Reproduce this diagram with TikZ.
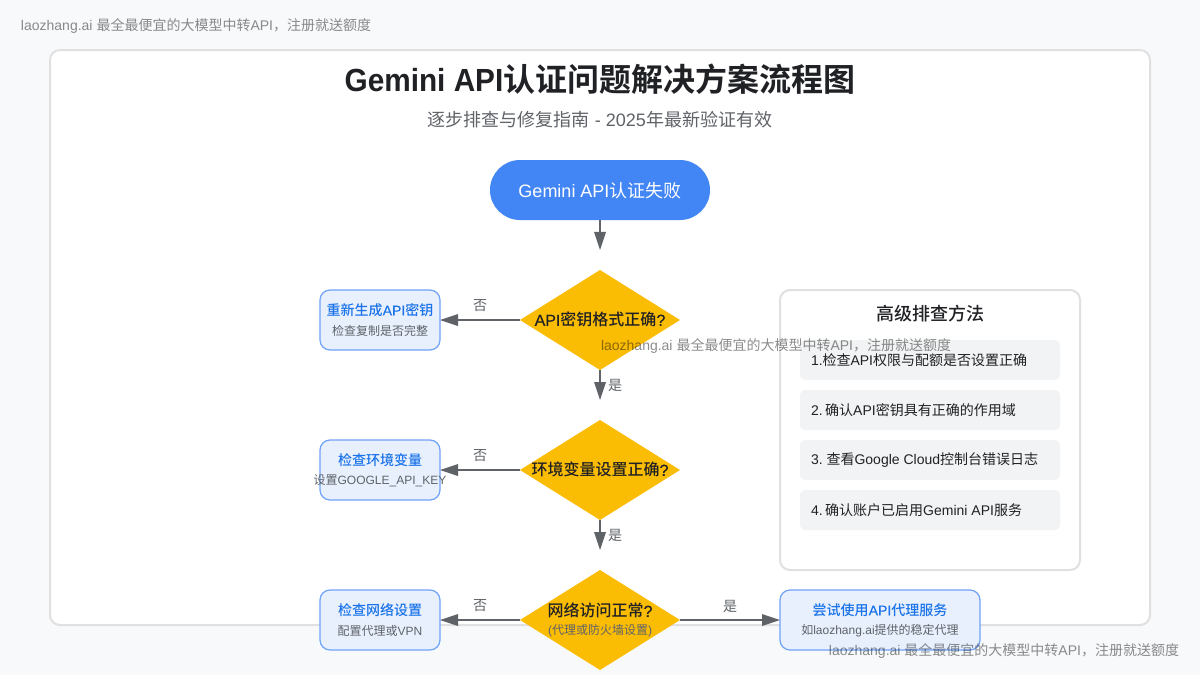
\documentclass[tikz,border=0pt]{standalone}
\usepackage{fontspec}
\setmainfont{Liberation Sans}
\newfontfamily\latinmid{Liberation Sans}[FakeBold=0.2]
\newfontfamily\latintitle{Liberation Sans}[UprightFont=* Bold,FakeStretch=0.93]
\newfontfamily\cjk{Noto Sans CJK SC}
\newfontfamily\cjkmid{Noto Sans CJK SC Medium}
\newfontfamily\cjkbold{Noto Sans CJK SC Bold}
\newcommand{\zh}[1]{{\cjk #1}}
\newcommand{\zhm}[1]{{\cjkmid #1}}
\newcommand{\zhb}[1]{{\cjkbold #1}}
\usetikzlibrary{arrows.meta,shapes.geometric}
\definecolor{page_bg}{HTML}{F8F9FA}
\definecolor{card_line}{HTML}{E0E0E0}
\definecolor{start_blue}{HTML}{4285F4}
\definecolor{check_yellow}{HTML}{FBBC04}
\definecolor{fix_fill}{HTML}{E8F0FE}
\definecolor{fix_line}{HTML}{6FA3F7}
\definecolor{fix_text}{HTML}{1A73E8}
\definecolor{step_fill}{HTML}{F1F3F4}
\definecolor{ink}{HTML}{202124}
\definecolor{edge_gray}{HTML}{5F6368}

\begin{document}
\begin{tikzpicture}[x=0.75pt,y=-0.75pt,->,>={Triangle[length=13.5pt,width=9pt,line width=0pt]},line width=1.5pt]
    \tikzstyle{card}=[draw=card_line, fill=white, rounded corners=7.5pt, inner sep=0pt, outer sep=0pt, line width=1.5pt]
    \tikzstyle{terminal}=[fill=start_blue, rounded corners=22.5pt, minimum width=165pt, minimum height=45pt, inner sep=0pt, outer sep=0pt]
    \tikzstyle{check}=[diamond, aspect=1.6, fill=check_yellow, minimum width=120pt, minimum height=75pt, inner sep=0pt, outer sep=0pt]
    \tikzstyle{checktext}=[text=ink, inner sep=0pt, yshift=-0.5pt, font=\latinmid\fontsize{12pt}{14pt}\selectfont]
    \tikzstyle{fixbox}=[draw=fix_line, fill=fix_fill, rounded corners=7.5pt, minimum width=90pt, minimum height=45pt, inner sep=0pt, outer sep=0pt, line width=0.9pt]
    \tikzstyle{fixtitle}=[text=fix_text, inner sep=0pt, font=\latinmid\fontsize{10.5pt}{13pt}\selectfont]
    \tikzstyle{subtext}=[text=edge_gray, inner sep=0pt, yshift=-0.75pt, font=\fontsize{9pt}{11pt}\selectfont]
    \tikzstyle{edgelabel}=[text=edge_gray, inner sep=0pt, yshift=-0.75pt, font=\fontsize{10.5pt}{13pt}\selectfont]
    \tikzstyle{stepbox}=[fill=step_fill, rounded corners=3.75pt, minimum width=195pt, minimum height=30pt, inner sep=0pt, outer sep=0pt]
    \tikzstyle{steptext}=[anchor=west, text=ink, inner sep=0pt, yshift=-0.4pt, font=\fontsize{10.5pt}{13pt}\selectfont]
    \tikzstyle{mark_text}=[text=black, text opacity=0.45, inner sep=0pt, yshift=-0.75pt, font=\fontsize{10.5pt}{13pt}\selectfont]

    \fill[page_bg,-] (0,0) rectangle (1200,675);
    \useasboundingbox (0,0) rectangle (1200,675);

    % card and headings
    \node[card, minimum width=825pt, minimum height=431.25pt] (main) at (600,337.5) {};
    \node[text=ink, inner sep=0pt, font=\latintitle\fontsize{24pt}{28pt}\selectfont] (title) at (600,79) {Gemini API\zhb{认证问题解决方案流程图}};
    \node[text=edge_gray, inner sep=0pt, font=\fontsize{13.5pt}{16pt}\selectfont] (subtitle) at (600,120) {\zh{逐步排查与修复指南} - 2025\zh{年最新验证有效}};

    % flow
    \node[terminal] (start) at (600,190) {};
    \node[text=white, inner sep=0pt, font=\fontsize{13.5pt}{16pt}\selectfont] (startt) at (600,191) {Gemini API\zh{认证失败}};
    \node[check] (c1) at (600,320) {};
    \node[check] (c2) at (600,470) {};
    \node[check] (c3) at (600,620) {};
    \node[checktext] (c1t) at (600,319) {API\zhm{密钥格式正确}?};
    \node[checktext] (c2t) at (600,469) {\zhm{环境变量设置正确}?};
    \node[checktext] (c3t) at (600,610) {\zhm{网络访问正常}?};
    \node[subtext] (c3s) at (600,630) {(\zh{代理或防火墙设置})};

    \node[fixbox] (f1) at (380,320) {};
    \node[fixbox] (f2) at (380,470) {};
    \node[fixbox] (f3) at (380,620) {};
    \node[fixbox, minimum width=150pt] (f4) at (880,620) {};
    \node[fixtitle] (f1t) at (380,310) {\zhm{重新生成}API\zhm{密钥}};
    \node[subtext] (f1s) at (380,330) {\zh{检查复制是否完整}};
    \node[fixtitle] (f2t) at (380,460) {\zhm{检查环境变量}};
    \node[subtext] (f2s) at (380,480) {\zh{设置}GOOGLE\_API\_KEY};
    \node[fixtitle] (f3t) at (380,610) {\zhm{检查网络设置}};
    \node[subtext] (f3s) at (380,630) {\zh{配置代理或}VPN};
    \node[fixtitle] (f4t) at (880,610) {\zhm{尝试使用}API\zhm{代理服务}};
    \node[subtext] (f4s) at (880,630) {\zh{如}laozhang.ai\zh{提供的稳定代理}};

    \path[color=edge_gray]
     (start) edge[shorten >=15pt] (c1)
     (c1) edge[shorten >=15pt] (c2)
     (c2) edge[shorten >=15pt] (c3)
     (c1) edge[] (f1)
     (c2) edge[] (f2)
     (c3) edge[] (f3)
     (c3) edge[] (f4)
     ;
    \node[edgelabel] (no1) at (480,305) {\zh{否}};
    \node[edgelabel] (no2) at (480,455) {\zh{否}};
    \node[edgelabel] (no3) at (480,605) {\zh{否}};
    \node[edgelabel] (yes1) at (615,384) {\zh{是}};
    \node[edgelabel] (yes2) at (615,534) {\zh{是}};
    \node[edgelabel] (yes3) at (730,605) {\zh{是}};

    % side panel
    \node[card, minimum width=225pt, minimum height=210pt] (panel) at (930,430) {};
    \node[text=ink, inner sep=0pt, font=\fontsize{13.5pt}{16pt}\selectfont] (paneltitle) at (930,314) {\zhm{高级排查方法}};
    \node[stepbox] (s1) at (930,360) {};
    \node[stepbox] (s2) at (930,410) {};
    \node[stepbox] (s3) at (930,460) {};
    \node[stepbox] (s4) at (930,510) {};
    \node[steptext] (s1t) at (810,360) {1.\kern-3pt\ \zh{检查}API\zh{权限与配额是否设置正确}};
    \node[steptext] (s2t) at (810,410) {2.\kern-1pt\ \zh{确认}API\zh{密钥具有正确的作用域}};
    \node[steptext] (s3t) at (810,460) {3.\ \zh{查看}Google Cloud\zh{控制台错误日志}};
    \node[steptext] (s4t) at (810,510) {4.\kern-1pt\ \zh{确认账户已启用}Gemini API\zh{服务}};

    % watermarks
    \node[mark_text, anchor=west] (m1) at (20,25) {laozhang.ai \zh{最全最便宜的大模型中转}API\zh{，注册就送额度}};
    \node[mark_text, anchor=west] (m2) at (600,345) {laozhang.ai \zh{最全最便宜的大模型中转}API\zh{，注册就送额度}};
    \node[mark_text, anchor=east] (m3) at (1180,650) {laozhang.ai \zh{最全最便宜的大模型中转}API\zh{，注册就送额度}};
  \end{tikzpicture}
\end{document}
